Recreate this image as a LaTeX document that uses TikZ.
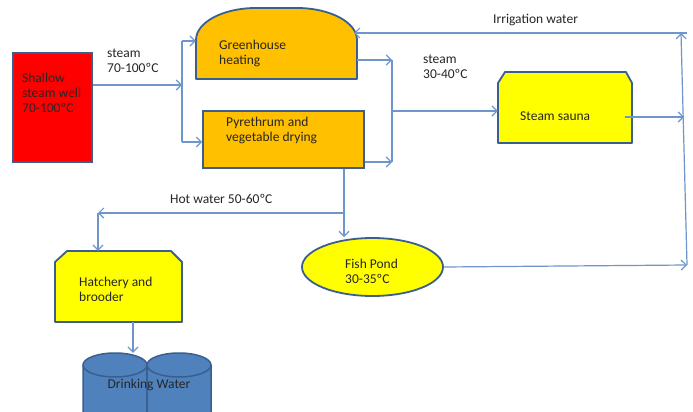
\documentclass[tikz,border=0pt]{standalone}
\usepackage{fontspec}
\setmainfont{Carlito}
\usetikzlibrary{arrows.meta,shapes.geometric}
\definecolor{bordc}{HTML}{3A5F8F}
\definecolor{arrc}{HTML}{6E96CD}
\definecolor{redf}{HTML}{FF0000}
\definecolor{orf}{HTML}{FFC000}
\definecolor{yelf}{HTML}{FFFF00}
\definecolor{cylf}{HTML}{4F81BD}
\definecolor{txtc}{HTML}{262626}
\tikzset{
  box/.style={draw=bordc,line width=1.8pt,inner sep=0pt},
  shapeline/.style={draw=bordc,line width=1.8pt,line join=round},
  ghost/.style={inner sep=0pt,rectangle},
  lbl/.style={inner sep=0pt,anchor=west,align=left,text=txtc,font=\fontsize{13.5}{15}\selectfont},
  conn/.style={draw=arrc,line width=1.2pt},
  arr/.style={conn,-{Straight Barb[length=5pt,width=10pt,line width=1.2pt]}}
}
\begin{document}
\begin{tikzpicture}[x=1pt,y=-1pt]
\clip (0,0) rectangle (693,412);
\fill[white] (0,0) rectangle (693,412);
% shapes
\node[box,fill=redf,rectangle,minimum width=79pt,minimum height=109pt] (well) at (52.5,107.5) {};
\filldraw[shapeline,fill=orf] (196,79) -- (196,40) arc[start angle=180,end angle=270,x radius=60,y radius=32] -- (297,8) arc[start angle=270,end angle=360,x radius=60,y radius=32] -- (357,79) -- cycle;
\node[ghost,minimum width=161pt,minimum height=71pt] (gh) at (276.5,43.5) {};
\node[box,fill=orf,rectangle,minimum width=161pt,minimum height=57pt] (py) at (283.5,139.5) {};
\filldraw[shapeline,fill=yelf] (498,143) -- (498,83) -- (505,72) -- (626,72) -- (632,83) -- (632,143) -- cycle;
\node[ghost,minimum width=134pt,minimum height=71pt] (sauna) at (565,107.5) {};
\node[box,fill=yelf,ellipse,minimum width=141pt,minimum height=58pt] (pond) at (372.5,267) {};
\filldraw[shapeline,fill=yelf] (55,322) -- (55,262) -- (67,251) -- (171,251) -- (182,262) -- (182,322) -- cycle;
\node[ghost,minimum width=127pt,minimum height=71pt] (hatch) at (118.5,286.5) {};
% drinking water cylinders
\foreach \a/\b in {83/147,147/211}{
  \filldraw[fill=cylf,draw=bordc,line width=1.5pt] (\a,365) -- (\a,420) -- (\b,420) -- (\b,365) arc[start angle=0,end angle=-180,x radius=32,y radius=12] -- cycle;
  \draw[bordc,line width=1.5pt] (\a,365) arc[start angle=180,end angle=0,x radius=32,y radius=12];
}
\node[ghost,minimum width=128pt,minimum height=59pt] (drink) at (147,382.5) {};
% texts
\node[lbl] (wellt) at (22,93) {Shallow\\steam well\\70-100ºC};
\node[lbl] (s1) at (107,60.5) {steam\\70-100ºC};
\node[lbl] (ght) at (219,53.5) {Greenhouse\\heating};
\node[lbl] (pyt) at (226,130.5) {Pyrethrum and\\vegetable drying};
\node[lbl] (s2) at (423,67) {steam\\30-40ºC};
\node[lbl] (saunat) at (520,116) {Steam sauna};
\node[lbl] (irr) at (493,20) {Irrigation water};
\node[lbl] (hot) at (170,199) {Hot water 50-60ºC};
\node[lbl] (hatcht) at (79,289.5) {Hatchery and\\brooder};
\node[lbl] (pondt) at (345,271) {Fish Pond\\30-35ºC};
\node[lbl,anchor=center] (drinkt) at (149,385) {Drinking Water};
% junction coordinates
\coordinate (jW) at (182,85);
\coordinate (jA) at (182,41);
\coordinate (jB) at (182,142);
\coordinate (jC) at (392,60);
\coordinate (jD) at (392,162);
\coordinate (jE) at (392,111);
\coordinate (jF) at (684,117);
\coordinate (jTop) at (681,33);
\coordinate (jTopR) at (687,33);
\coordinate (jBot) at (687,265);
\coordinate (jP) at (344,213);
\coordinate (jH) at (98,213);
\coordinate (jS) at (625,117);
\coordinate (jX) at (133,0);
\coordinate (ghArc) at (354,33);
% connectors
\draw[arr] (well.east |- jW) -- (jW);
\draw[conn] (jA) -- (jB);
\draw[arr] (jA) -- (gh.west |- jA);
\draw[arr] (jB) -- (py.west |- jB);
\draw[arr] (gh.east |- jC) -- (jC);
\draw[arr] (py.east |- jD) -- (jD);
\draw[conn] (jC) -- (jD);
\draw[arr] (jE) -- (sauna.west |- jE);
\draw[arr] (jS) -- (jF);
\draw[arr] (jBot) -- (jTop);
\draw[arr] (jTopR) -- (ghArc);
\draw[arr] (py.south -| jP) -- (pond.north -| jP);
\draw[arr] (jP) -- (jH);
\draw[arr] (jH) -- (hatch.north -| jH);
\draw[arr] (hatch.south -| jX) -- (drink.north -| jX);
\draw[arr] (pond.east) -- (jBot);
\end{tikzpicture}
\end{document}
